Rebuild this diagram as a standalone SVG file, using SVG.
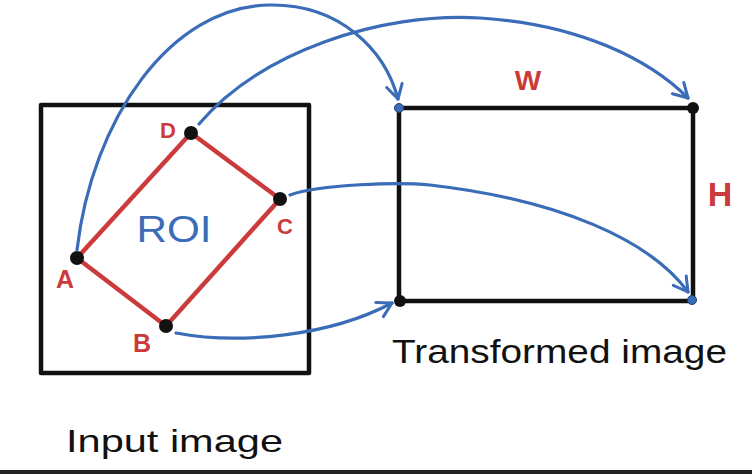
<svg xmlns="http://www.w3.org/2000/svg" width="752" height="474" viewBox="0 0 752 474">
<style>
.frame{fill:none;stroke:#111;stroke-width:4.5;stroke-linejoin:round}
.roi{fill:none;stroke:#cc3b3b;stroke-width:4.5;stroke-linecap:round}
.dot{fill:#111}
.bdot{fill:#3a6cb8;stroke:#1d3f7a;stroke-width:1}
.conn{fill:none;stroke:#3a6cb8;stroke-width:3.2;stroke-linecap:round}
.lbl{font-family:"Liberation Sans",Arial,sans-serif;fill:#cc3b3b;text-anchor:middle;font-weight:bold}
.txt{font-family:"Liberation Sans",Arial,sans-serif;fill:#111}
</style>
<defs>
<marker id="arr" viewBox="0 0 20 20" refX="16" refY="10" markerWidth="20" markerHeight="20" markerUnits="userSpaceOnUse" orient="auto">
<path d="M2,2 L16,10 L2,18" fill="none" stroke="#3a6cb8" stroke-width="3" stroke-linecap="round" stroke-linejoin="round"/>
</marker>
</defs>
<rect x="0" y="0" width="752" height="474" fill="#fff"/>
<g id="input-image">
<rect class="frame" x="41" y="105" width="268" height="268"/>
<text class="txt" x="66" y="452" font-size="32" textLength="217" lengthAdjust="spacingAndGlyphs">Input image</text>
</g>
<g id="roi">
<polygon class="roi" points="77,258 191,133 280,199 166,326"/>
<text x="174" y="242" font-family="Liberation Sans,Arial,sans-serif" font-size="36" fill="#3a6cb8" text-anchor="middle" textLength="75" lengthAdjust="spacingAndGlyphs">ROI</text>
</g>
<g id="point-A"><circle class="dot" cx="77" cy="258" r="7"/><text class="lbl" x="65" y="288" font-size="25">A</text></g>
<g id="point-B"><circle class="dot" cx="166" cy="326" r="7"/><text class="lbl" x="142" y="352" font-size="25">B</text></g>
<g id="point-C"><circle class="dot" cx="280" cy="199" r="7"/><text class="lbl" x="285" y="234" font-size="22">C</text></g>
<g id="point-D"><circle class="dot" cx="191" cy="133" r="7"/><text class="lbl" x="168" y="138" font-size="22">D</text></g>
<g id="transformed-image">
<rect class="frame" x="399" y="108" width="294" height="193"/>
<circle class="bdot" cx="399" cy="108" r="4.5"/>
<circle class="dot" cx="693" cy="108" r="6"/>
<circle class="dot" cx="400" cy="301" r="6"/>
<circle class="bdot" cx="692" cy="300" r="4.5"/>
<text class="lbl" x="528" y="90" font-size="28">W</text>
<text class="lbl" x="720" y="206" font-size="34">H</text>
<text class="txt" x="392" y="363" font-size="33" textLength="335" lengthAdjust="spacingAndGlyphs">Transformed image</text>
</g>
<g id="connectors">
<path class="conn" marker-end="url(#arr)" d="M77,250 C92,120 170,6 270,5 C340,4 385,50 398,99"/>
<path class="conn" marker-end="url(#arr)" d="M199,124 C260,52 380,12 480,18 C580,24 650,60 688,98"/>
<path class="conn" marker-end="url(#arr)" d="M290,195 C320,184 400,182 430,185 C560,200 650,240 688,292"/>
<path class="conn" marker-end="url(#arr)" d="M176,333 C240,345 330,336 392,303"/>
</g>
<rect x="0" y="470" width="752" height="4" fill="#222"/>
</svg>
